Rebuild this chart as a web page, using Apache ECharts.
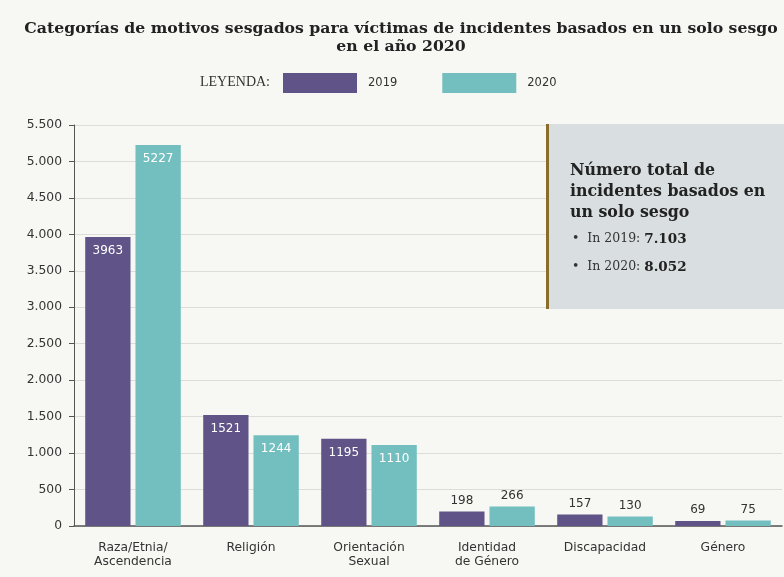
<!DOCTYPE html>
<html>
<head>
<meta charset="utf-8">
<script src="https://cdn.jsdelivr.net/npm/echarts@6/dist/echarts.min.js"></script>
<style>
html,body{margin:0;padding:0;background:#f7f7f3;}
#chart{width:784px;height:577px;}
</style>
</head>
<body>
<div id="chart"></div>
<script>
var categories = ['Raza/Etnia/\nAscendencia', 'Religión', 'Orientación\nSexual', 'Identidad\nde Género', 'Discapacidad', 'Género'];
var seriesNames = ['2019', '2020'];
var values2019 = [3963, 1521, 1195, 198, 157, 69];
var values2020 = [5227, 1244, 1110, 266, 130, 75];
var totals = {'2019': '7.103', '2020': '8.052'};
var yMin = 0, yMax = 5500, yInterval = 500;
var insideThreshold = 1000;

var chart = echarts.init(document.getElementById('chart'));

function fmtThousands(v) {
  return String(v).replace(/\B(?=(\d{3})+(?!\d))/g, '.');
}

function buildData(arr) {
  return arr.map(function (v) {
    var inside = v >= insideThreshold;
    return {
      value: v,
      label: inside ? {
        position: 'insideTop', distance: 8, color: '#ffffff'
      } : {
        position: 'top', distance: 5, color: '#333333'
      }
    };
  });
}

var sansFont = 'DejaVu Sans';
var serifFont = 'DejaVu Serif';

var option = {
  backgroundColor: '#f7f7f3',
  animation: false,
  graphic: [
    {
      type: 'text', x: 401, y: 20,
      style: {
        text: 'Categorías de motivos sesgados para víctimas de incidentes basados en un solo sesgo\nen el año 2020',
        align: 'center', verticalAlign: 'top',
        fontFamily: serifFont, fontWeight: 'bold', fontSize: 15.7, lineHeight: 18, fill: '#222222'
      }
    },
    {
      type: 'text', left: 200, top: 75,
      style: { text: 'LEYENDA:', fontFamily: 'Liberation Serif', fontSize: 14, fill: '#333333' }
    },
    {
      type: 'rect', left: 546, top: 124, z: 10,
      shape: { width: 238, height: 185 },
      style: { fill: '#d9dfe1' }
    },
    {
      type: 'rect', left: 546, top: 124, z: 11,
      shape: { width: 3, height: 185 },
      style: { fill: '#8a6d2b' }
    },
    {
      type: 'text', left: 570, top: 160, z: 12,
      style: {
        text: 'Número total de\nincidentes basados en\nun solo sesgo',
        fontFamily: serifFont, fontWeight: 'bold', fontSize: 15.8, lineHeight: 21, fill: '#222222'
      }
    },
    {
      type: 'text', left: 572, top: 225, z: 12,
      style: {
        text: '•  In 2019: {b|' + totals['2019'] + '}\n•  In 2020: {b|' + totals['2020'] + '}',
        fontFamily: serifFont, fontSize: 12.5, lineHeight: 28, fill: '#333333',
        rich: { b: { fontFamily: serifFont, fontWeight: 'bold', fontSize: 13.5, fill: '#222222', lineHeight: 28 } }
      }
    }
  ],
  legend: {
    data: seriesNames,
    left: 283,
    top: 73,
    padding: 0,
    itemWidth: 74,
    itemHeight: 20,
    itemGap: 45,
    icon: 'rect',
    textStyle: { fontFamily: sansFont, fontSize: 11.5, color: '#333333', padding: [0, 0, 0, 6] }
  },
  grid: { left: 74, right: 2, top: 125, bottom: 51, containLabel: false },
  xAxis: {
    type: 'category',
    data: categories,
    axisLine: { lineStyle: { color: '#555555', width: 1.5 } },
    axisTick: { alignWithLabel: true, length: 5, lineStyle: { color: '#555555' } },
    axisLabel: { fontFamily: sansFont, fontSize: 12.3, color: '#333333', margin: 15, lineHeight: 14 }
  },
  yAxis: {
    type: 'value',
    min: yMin, max: yMax, interval: yInterval,
    axisLine: { show: true, lineStyle: { color: '#555555', width: 1 } },
    axisTick: { show: true, length: 5, lineStyle: { color: '#555555' } },
    splitLine: { lineStyle: { color: '#dcdcd8' } },
    axisLabel: {
      fontFamily: sansFont, fontSize: 12.3, color: '#333333', margin: 12,
      formatter: function (v) { return fmtThousands(v); }
    }
  },
  series: [
    {
      name: seriesNames[0], type: 'bar',
      data: buildData(values2019),
      itemStyle: { color: '#605387' },
      barGap: '11%', barCategoryGap: '19%',
      label: { show: true, fontFamily: sansFont, fontSize: 12 }
    },
    {
      name: seriesNames[1], type: 'bar',
      data: buildData(values2020),
      itemStyle: { color: '#73bfbf' },
      label: { show: true, fontFamily: sansFont, fontSize: 12 }
    }
  ]
};
chart.setOption(option);
</script>
</body>
</html>
